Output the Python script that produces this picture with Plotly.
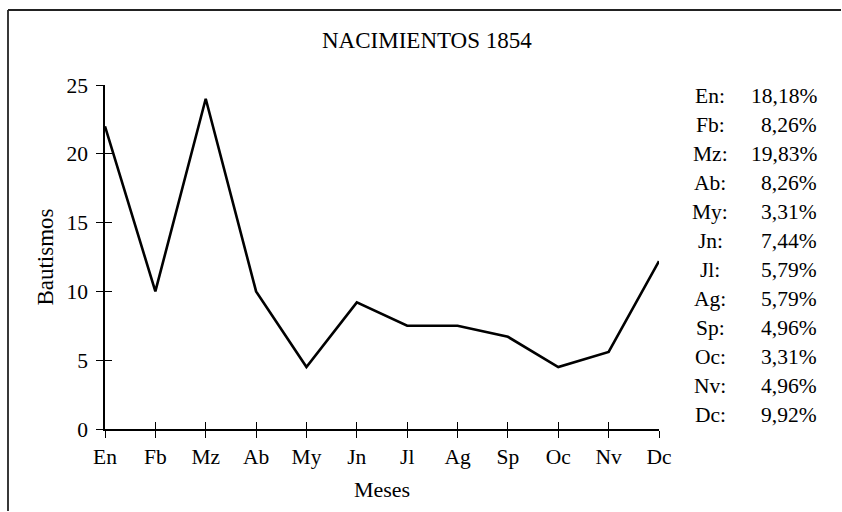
import plotly.graph_objects as go

months = ["En", "Fb", "Mz", "Ab", "My", "Jn", "Jl", "Ag", "Sp", "Oc", "Nv", "Dc"]
bautismos = [22, 10, 24, 10, 4.5, 9.2, 7.5, 7.5, 6.7, 4.5, 5.6, 12.2]
pct_labels = ["18,18%", "8,26%", "19,83%", "8,26%", "3,31%", "7,44%",
              "5,79%", "5,79%", "4,96%", "3,31%", "4,96%", "9,92%"]
y_ticks = [0, 5, 10, 15, 20, 25]

W, H = 842, 512
L, R, T, B = 105, 183, 85, 83
pw, ph = W - L - R, H - T - B
FONT = "Liberation Serif"

def px(x):
    return (x - L) / pw

def py(y):
    return (H - B - y) / ph

xs = list(range(len(months)))

fig = go.Figure()
fig.add_trace(go.Scatter(x=xs, y=bautismos, mode="lines",
                         line=dict(color="black", width=2.6),
                         showlegend=False, hoverinfo="skip"))
# invisible helper trace so the overlay axes (inner half of crossing ticks) are drawn
fig.add_trace(go.Scatter(x=xs, y=bautismos, mode="lines", xaxis="x2", yaxis="y2",
                         line=dict(color="rgba(0,0,0,0)", width=0),
                         showlegend=False, hoverinfo="skip"))

tick_common = dict(showgrid=False, zeroline=False, tickcolor="black", tickwidth=1.4, ticklen=7)

fig.update_layout(
    width=W, height=H,
    margin=dict(l=L, r=R, t=T, b=B),
    paper_bgcolor="white", plot_bgcolor="white",
    font=dict(family=FONT, size=21.5, color="black"),
    xaxis=dict(range=[0, 11], tickvals=xs, ticktext=months, ticks="outside",
               showline=True, linecolor="black", linewidth=1.6,
               tickfont=dict(size=21.5),
               title=dict(text="Meses", font=dict(size=22), standoff=14),
               **tick_common),
    yaxis=dict(range=[0, 25], tickvals=y_ticks, ticks="outside", showline=True,
               linecolor="black", linewidth=1.6, ticklabelstandoff=4,
               tickfont=dict(size=21.5),
               title=dict(text="Bautismos", font=dict(size=23), standoff=6),
               **tick_common),
    xaxis2=dict(range=[0, 11], tickvals=xs, ticks="inside", showticklabels=False,
                overlaying="x", showline=False, **tick_common),
    yaxis2=dict(range=[0, 25], tickvals=y_ticks, ticks="inside", showticklabels=False,
                overlaying="y", showline=False, **tick_common),
)

annotations = [
    dict(text="NACIMIENTOS 1854", x=px(427), y=py(40), xref="paper", yref="paper",
         showarrow=False, xanchor="center", yanchor="middle", font=dict(size=23))
]
y0, y1 = 96, 415
step = (y1 - y0) / (len(months) - 1)
for i, (m, p) in enumerate(zip(months, pct_labels)):
    yy = py(y0 + i * step)
    annotations.append(dict(text=m + ":", x=px(710), y=yy, xref="paper", yref="paper",
                            showarrow=False, xanchor="center", yanchor="middle",
                            font=dict(size=21.5)))
    annotations.append(dict(text=p, x=px(819), y=yy, xref="paper", yref="paper",
                            showarrow=False, xanchor="right", yanchor="middle",
                            font=dict(size=21.5)))
fig.update_layout(annotations=annotations)

# frame: top and left borders (right/bottom run off the picture)
fig.add_shape(type="line", xref="paper", yref="paper",
              x0=px(8), x1=px(W - 1), y0=py(10), y1=py(10),
              line=dict(color="#222", width=1.8))
fig.add_shape(type="line", xref="paper", yref="paper",
              x0=px(8), x1=px(8), y0=py(10), y1=py(H - 1),
              line=dict(color="#222", width=1.8))

fig.write_html("out.html", config={"displayModeBar": False, "responsive": False},
               post_script=("document.body.style.margin='0';"
                            "document.body.style.overflow='hidden';"
                            "document.documentElement.style.overflow='hidden';"))
